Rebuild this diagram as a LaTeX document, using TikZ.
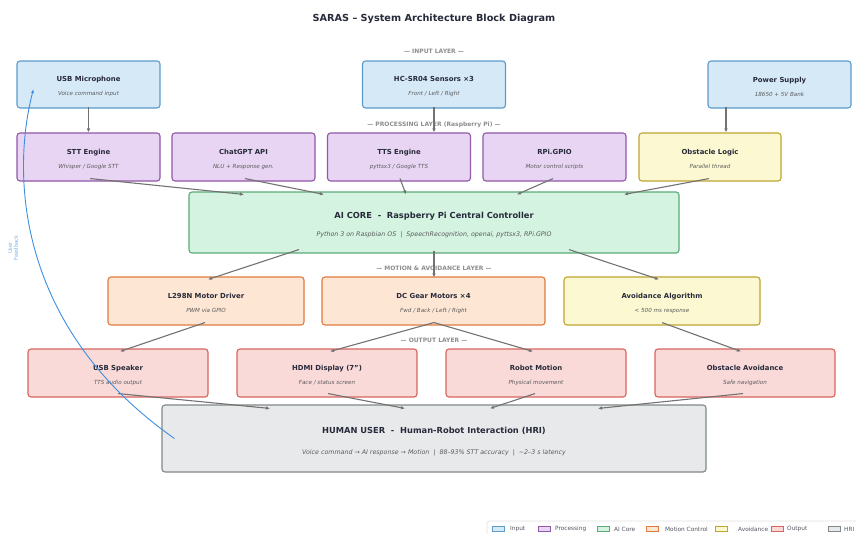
\documentclass[tikz,border=0pt]{standalone}
\usepackage{fontspec}
\setmainfont{DejaVu Sans}
\usetikzlibrary{arrows.meta}
\definecolor{inFill}{HTML}{D6E9F7}
\definecolor{inLine}{HTML}{5A9BCB}
\definecolor{prFill}{HTML}{E8D5F3}
\definecolor{prLine}{HTML}{9157A8}
\definecolor{coFill}{HTML}{D4F3E1}
\definecolor{coLine}{HTML}{5AAA78}
\definecolor{moFill}{HTML}{FDE6D4}
\definecolor{moLine}{HTML}{E07B3F}
\definecolor{avFill}{HTML}{FCF9D2}
\definecolor{avLine}{HTML}{BFA42E}
\definecolor{ouFill}{HTML}{F9DAD8}
\definecolor{ouLine}{HTML}{D8645E}
\definecolor{huFill}{HTML}{E8E9EB}
\definecolor{huLine}{HTML}{808889}
\definecolor{arrGray}{HTML}{727272}
\definecolor{fbBlue}{HTML}{3C8EE0}
\definecolor{txtDark}{HTML}{272A3A}
\definecolor{txtSub}{HTML}{5A5A5A}
\definecolor{txtLayer}{HTML}{8C8C8C}
\newcommand{\blk}[2]{{\rule{0pt}{9.3pt}\bfseries #1}\\{\fontsize{5.6}{6}\selectfont\itshape\color{txtSub}#2}}
\newcommand{\bigblk}[3][10.6pt]{{\rule{0pt}{#1}\fontsize{8.3}{9}\selectfont\bfseries #2}\\{\fontsize{6.3}{7}\selectfont\itshape\color{txtSub}#3}}
\begin{document}
\begin{tikzpicture}[x=1pt,y=-1pt,
  box/.style={draw, rounded corners=3pt, line width=1.1pt, inner sep=0pt, align=center,
    text=txtDark, font=\fontsize{6.9}{14}\selectfont},
  inbox/.style={box, fill=inFill, draw=inLine, minimum width=143pt, minimum height=47pt},
  prbox/.style={box, fill=prFill, draw=prLine, minimum width=143pt, minimum height=48pt},
  cobox/.style={box, fill=coFill, draw=coLine, minimum width=490pt, minimum height=61pt,
    font=\fontsize{8.3}{18}\selectfont},
  mobox/.style={box, fill=moFill, draw=moLine, minimum height=48pt},
  avbox/.style={box, fill=avFill, draw=avLine, minimum height=48pt},
  oubox/.style={box, fill=ouFill, draw=ouLine, minimum width=180pt, minimum height=48pt},
  hubox/.style={box, fill=huFill, draw=huLine, minimum width=544pt, minimum height=67pt,
    font=\fontsize{8.3}{21}\selectfont},
  layer/.style={text=txtLayer, font=\fontsize{6}{7}\selectfont\bfseries},
  flow/.style={draw=arrGray, line width=1.1pt, -{Latex[length=4pt,width=3.5pt]}},
  swatch/.style={draw, line width=0.8pt, minimum width=12pt, minimum height=5pt, inner sep=0pt},
  legtext/.style={anchor=west, inner sep=0pt, text=txtDark!80, font=\fontsize{5.8}{6}\selectfont}]
\useasboundingbox (0,0) rectangle (856,533);
\node[text=txtDark, font=\fontsize{9.7}{11}\selectfont\bfseries] (title) at (434,18.5) {SARAS – System Architecture Block Diagram};
\node[layer] (inlayer) at (434,51.5) {— INPUT LAYER —};
\node[layer] (prlayer) at (434,124.5) {— PROCESSING LAYER (Raspberry Pi) —};
\node[layer] (molayer) at (434,268.5) {— MOTION \& AVOIDANCE LAYER —};
\node[layer] (oulayer) at (434,340.5) {— OUTPUT LAYER —};
\node[inbox] (mic) at (88.5,84.5) {\blk{USB Microphone}{Voice command input}};
\node[inbox] (sensors) at (434,84.5) {\blk{HC-SR04 Sensors ×3}{Front / Left / Right}};
\node[inbox] (power) at (779.5,84.5) {\blk{Power Supply}{18650 + 5V Bank}};
\node[prbox] (stt) at (88.5,157) {\blk{STT Engine}{Whisper / Google STT}};
\node[prbox] (chatgpt) at (243.5,157) {\blk{ChatGPT API}{NLU + Response gen.}};
\node[prbox] (tts) at (399,157) {\blk{TTS Engine}{pyttsx3 / Google TTS}};
\node[prbox] (gpio) at (554.5,157) {\blk{RPi.GPIO}{Motor control scripts}};
\node[avbox, minimum width=142pt] (obslogic) at (710,157) {\blk{Obstacle Logic}{Parallel thread}};
\node[cobox] (core) at (434,222.5) {\bigblk{AI CORE \ - \ Raspberry Pi Central Controller}{Python 3 on Raspbian OS \ | \ SpeechRecognition, openai, pyttsx3, RPi.GPIO}};
\node[mobox, minimum width=196pt] (driver) at (206,301) {\blk{L298N Motor Driver}{PWM via GPIO}};
\node[mobox, minimum width=223pt] (motors) at (433.5,301) {\blk{DC Gear Motors ×4}{Fwd / Back / Left / Right}};
\node[avbox, minimum width=196pt] (avoidalg) at (662,301) {\blk{Avoidance Algorithm}{< 500 ms response}};
\node[oubox] (speaker) at (118,373) {\blk{USB Speaker}{TTS audio output}};
\node[oubox] (hdmi) at (327,373) {\blk{HDMI Display (7")}{Face / status screen}};
\node[oubox] (motion) at (536,373) {\blk{Robot Motion}{Physical movement}};
\node[oubox] (obsavoid) at (745,373) {\blk{Obstacle Avoidance}{Safe navigation}};
\node[hubox] (hri) at (434,438.5) {\bigblk[11.6pt]{HUMAN USER \ - \ Human-Robot Interaction (HRI)}{Voice command → AI response → Motion \ | \ 88–93\% STT accuracy \ | \ \textasciitilde2–3 s latency}};
\draw[flow] ([yshift=2pt]mic.south) -- (stt.north);
\draw[flow] ([yshift=2pt]sensors.south) -- (tts.north -| sensors.south);
\draw[flow] ([shift={(-53.5pt,2pt)}]power.south) -- ([xshift=16pt]obslogic.north);
\draw[flow] ([shift={(1.5pt,3pt)}]stt.south) -- ([shift={(-190pt,-3pt)}]core.north);
\draw[flow] ([shift={(1.5pt,3pt)}]chatgpt.south) -- ([shift={(-110pt,-3pt)}]core.north);
\draw[flow] ([shift={(1pt,3pt)}]tts.south) -- ([shift={(-28pt,-3pt)}]core.north);
\draw[flow] ([shift={(-1.5pt,3pt)}]gpio.south) -- ([shift={(83pt,-3pt)}]core.north);
\draw[flow] ([shift={(-1pt,3pt)}]obslogic.south) -- ([shift={(190pt,-3pt)}]core.north);
\draw[flow] ([shift={(-135pt,4pt)}]core.south) -- ([shift={(2pt,-3pt)}]driver.north);
\draw[flow] ([yshift=3pt]core.south) -- ([yshift=-1pt]motors.north -| core.south);
\draw[flow] ([shift={(135pt,4pt)}]core.south) -- ([shift={(-3pt,-3pt)}]avoidalg.north);
\draw[flow] ([shift={(-1pt,3pt)}]driver.south) -- ([shift={(2pt,-3pt)}]speaker.north);
\draw[flow] ([shift={(0.5pt,3pt)}]motors.south) -- ([shift={(3pt,-3pt)}]hdmi.north);
\draw[flow] ([shift={(0.5pt,3pt)}]motors.south) -- ([shift={(-3pt,-3pt)}]motion.north);
\draw[flow] ([yshift=3pt]avoidalg.south) -- ([shift={(-4pt,-3pt)}]obsavoid.north);
\draw[flow] ([yshift=4pt]speaker.south) -- ([shift={(-164pt,-4pt)}]hri.north);
\draw[flow] ([shift={(1pt,4pt)}]hdmi.south) -- ([shift={(-29pt,-4pt)}]hri.north);
\draw[flow] ([shift={(-1pt,4pt)}]motion.south) -- ([shift={(56pt,-4pt)}]hri.north);
\draw[flow] ([shift={(-2pt,4pt)}]obsavoid.south) -- ([shift={(164pt,-4pt)}]hri.north);
\draw[draw=fbBlue, line width=0.9pt, -{Latex[length=4pt,width=3pt]}] ([xshift=13pt]hri.west) .. controls (20,330) and (10,180) .. ([shift={(17pt,-4.5pt)}]mic.west);
\node[text=fbBlue!70, rotate=90, align=center, font=\fontsize{5.2}{6}\selectfont] (fblabel) at (13,248) {User\\Feedback};
\draw[draw=black!12, line width=0.6pt, rounded corners=2pt] (487,521) rectangle (862,540);
\node[swatch, draw=inLine, fill=inFill] (lgin) at (498,529) {};
\node[legtext] (lgintxt) at (510,529) {Input};
\node[swatch, draw=prLine, fill=prFill] (lgpr) at (544,529) {};
\node[legtext] (lgprtxt) at (555,529) {Processing};
\node[swatch, draw=coLine, fill=coFill] (lgco) at (603,529) {};
\node[legtext] (lgcotxt) at (614,529) {AI Core};
\node[swatch, draw=moLine, fill=moFill] (lgmo) at (652,529) {};
\node[legtext] (lgmotxt) at (665,529) {Motion Control};
\node[swatch, draw=avLine, fill=avFill] (lgav) at (721,529) {};
\node[legtext] (lgavtxt) at (738,529) {Avoidance};
\node[swatch, draw=ouLine, fill=ouFill] (lgou) at (777,529) {};
\node[legtext] (lgoutxt) at (787,529) {Output};
\node[swatch, draw=huLine, fill=huFill] (lghu) at (834,529) {};
\node[legtext] (lghutxt) at (844,529) {HRI};
\end{tikzpicture}
\end{document}
